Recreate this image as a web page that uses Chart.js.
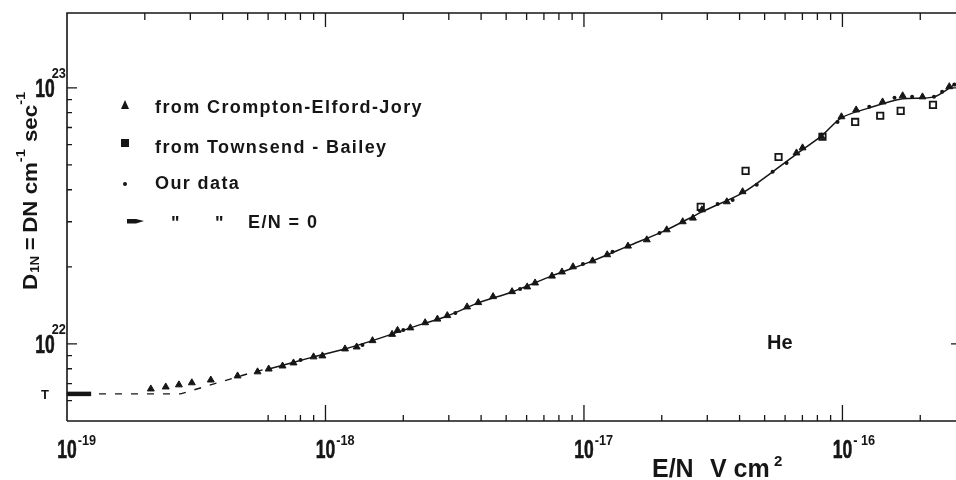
<!DOCTYPE html>
<html>
<head>
<meta charset="utf-8">
<script src="https://cdn.jsdelivr.net/npm/chart.js@4.4.0/dist/chart.umd.min.js"></script>
<style>
html, body { margin: 0; padding: 0; background: #fff; overflow: hidden; }
</style>
</head>
<body>
<canvas id="myChart" width="956" height="480"></canvas>
<script>
// E/N in V cm^2, D_1N in cm^-1 sec^-1 (He)
var xMin = 1e-19, xMax = 2.75e-16;
var yMin = 5e21, yMax = 1.96e23;

// triangles, from Crompton-Elford-Jory
var cejX = [2.11e-19, 2.41e-19, 2.71e-19, 3.04e-19, 3.60e-19, 4.57e-19, 5.46e-19, 6.03e-19, 6.82e-19, 7.52e-19,
  8.99e-19, 9.73e-19, 1.19e-18, 1.32e-18, 1.52e-18, 1.81e-18, 1.90e-18, 2.13e-18, 2.43e-18, 2.71e-18,
  2.96e-18, 3.53e-18, 3.90e-18, 4.45e-18, 5.27e-18, 6.03e-18, 6.47e-18, 7.52e-18, 8.22e-18, 9.07e-18,
  1.08e-17, 1.23e-17, 1.48e-17, 1.75e-17, 2.09e-17, 2.41e-17, 2.64e-17, 2.86e-17, 3.57e-17, 4.11e-17,
  6.64e-17, 7.01e-17, 8.30e-17, 9.91e-17, 1.13e-16, 1.43e-16, 1.71e-16, 2.04e-16, 2.59e-16];
var cejY = [6.67e21, 6.79e21, 6.92e21, 7.05e21, 7.23e21, 7.50e21, 7.78e21, 7.98e21, 8.20e21, 8.43e21,
  8.90e21, 8.98e21, 9.56e21, 9.73e21, 1.03e22, 1.09e22, 1.13e22, 1.155e22, 1.21e22, 1.25e22,
  1.29e22, 1.395e22, 1.45e22, 1.53e22, 1.60e22, 1.67e22, 1.73e22, 1.84e22, 1.91e22, 2.00e22,
  2.11e22, 2.23e22, 2.41e22, 2.55e22, 2.79e22, 3.00e22, 3.10e22, 3.34e22, 3.59e22, 3.93e22,
  5.57e22, 5.83e22, 6.44e22, 7.71e22, 8.20e22, 8.81e22, 9.31e22, 9.22e22, 1.01e23];

// open squares, from Townsend-Bailey
var tbX = [2.83e-17, 4.22e-17, 5.66e-17, 8.37e-17, 1.12e-16, 1.40e-16, 1.68e-16, 2.24e-16];
var tbY = [3.43e22, 4.74e22, 5.37e22, 6.44e22, 7.36e22, 7.78e22, 8.13e22, 8.58e22];

// small dots, our data
var ourX = [8.01e-19, 1.39e-18, 2.00e-18, 3.18e-18, 5.66e-18, 9.91e-18, 1.29e-17, 1.96e-17, 3.29e-17, 3.76e-17,
  4.66e-17, 5.37e-17, 6.08e-17, 9.57e-17, 1.27e-16, 1.59e-16, 1.86e-16, 2.26e-16, 2.43e-16, 2.71e-16];
var ourY = [8.66e21, 9.91e21, 1.134e22, 1.32e22, 1.64e22, 2.05e22, 2.29e22, 2.71e22, 3.52e22, 3.65e22,
  4.18e22, 4.70e22, 5.09e22, 7.36e22, 8.43e22, 9.14e22, 9.22e22, 9.22e22, 9.65e22, 1.03e23];

// E/N = 0 value
var zeroX = [1e-19, 1.24e-19];
var zeroY = [6.38e21, 6.38e21];

// drawn curve, dashed at low E/N
var dashX = [1e-19, 1.77e-19, 2.75e-19, 5.13e-19, 6.13e-19];
var dashY = [6.38e21, 6.38e21, 6.38e21, 7.70e21, 8.06e21];
var fitX = [6.03e-19, 8.99e-19, 1.19e-18, 1.52e-18, 2.13e-18, 2.96e-18, 3.90e-18, 5.27e-18, 7.52e-18, 1.08e-17,
  1.48e-17, 2.09e-17, 2.86e-17, 4.11e-17, 5.37e-17, 6.82e-17, 8.30e-17, 9.91e-17, 1.27e-16, 1.71e-16,
  2.26e-16, 2.71e-16];
var fitY = [7.98e21, 8.90e21, 9.56e21, 1.03e22, 1.155e22, 1.286e22, 1.446e22, 1.596e22, 1.844e22, 2.11e22,
  2.41e22, 2.79e22, 3.28e22, 3.89e22, 4.70e22, 5.62e22, 6.49e22, 7.64e22, 8.35e22, 9.06e22,
  9.22e22, 1.03e23];

// axis ticks
var xMajor = [1e-19, 1e-18, 1e-17, 1e-16];
var xLabels = ['-19', '-18', '-17', '- 16'];
var yMajor = [1e22, 1e23];
var yLabels = ['22', '23'];
var mant = [2, 3, 4, 5, 6, 7, 8, 9];

var ink = '#161616';
var SANS = '"Liberation Sans", Arial, sans-serif';

function pts(xs, ys) {
  var out = [];
  for (var i = 0; i < xs.length; i++) out.push({x: xs[i], y: ys[i]});
  return out;
}

// condensed text: drawn squeezed horizontally, optionally stroked to keep it heavy
function narrowText(ctx, t, x, y, font, sx, align, lw) {
  ctx.save();
  ctx.font = font;
  var w = ctx.measureText(t).width * sx;
  var left = align === 'center' ? x - w / 2 : x;
  ctx.translate(left, y);
  ctx.scale(sx, 1);
  ctx.textAlign = 'left';
  ctx.fillText(t, 0, 0);
  if (lw) {
    ctx.lineWidth = lw;
    ctx.strokeText(t, 0, 0);
  }
  ctx.restore();
  return w;
}

function pow10(ctx, x, y, exp, supDx, supDy) {
  ctx.textBaseline = 'alphabetic';
  var w = narrowText(ctx, '10', x, y + 9, 'bold 25px ' + SANS, 0.7, 'center', 0.6);
  narrowText(ctx, exp, x + w / 2 + supDx, y + supDy, 'bold 15px ' + SANS, 0.85, 'left', 0);
}

var axesPlugin = {
  id: 'axesPlugin',
  afterDraw: function(chart) {
    var ctx = chart.ctx, a = chart.chartArea;
    var xs = chart.scales.x, ys = chart.scales.y;
    ctx.save();
    ctx.strokeStyle = ink;
    ctx.fillStyle = ink;
    ctx.lineWidth = 1.6;
    ctx.beginPath();
    ctx.moveTo(a.left, a.bottom); ctx.lineTo(a.left, a.top); ctx.lineTo(a.right, a.top);
    ctx.moveTo(a.left, a.bottom); ctx.lineTo(a.right, a.bottom);
    ctx.stroke();

    ctx.lineWidth = 1.3;
    ctx.beginPath();
    // x ticks, top and bottom
    for (var d = 1e-19; d < xMax; d *= 10) {
      for (var m = 0; m < mant.length; m++) {
        var v = d * mant[m];
        if (v > xMax) break;
        var px = xs.getPixelForValue(v);
        ctx.moveTo(px, a.top); ctx.lineTo(px, a.top + 7);
        if (v > 5.5e-19) { ctx.moveTo(px, a.bottom); ctx.lineTo(px, a.bottom - 6); }
      }
    }
    xMajor.forEach(function(v) {
      var px = xs.getPixelForValue(v);
      if (v > xMin) {
        ctx.moveTo(px, a.top); ctx.lineTo(px, a.top + 14);
        ctx.moveTo(px, a.bottom); ctx.lineTo(px, a.bottom - 16);
      }
    });
    // y ticks, left
    var yMinor = [6e21, 7e21, 8e21, 9e21, 2e22, 3e22, 4e22, 5e22, 6e22, 7e22, 8e22, 9e22];
    yMinor.forEach(function(v) {
      var py = ys.getPixelForValue(v);
      ctx.moveTo(a.left, py); ctx.lineTo(a.left + 5, py);
    });
    yMajor.forEach(function(v) {
      var py = ys.getPixelForValue(v);
      ctx.moveTo(a.left, py); ctx.lineTo(a.left + 10, py);
      ctx.moveTo(a.right, py); ctx.lineTo(a.right - 5, py);
    });
    ctx.stroke();

    // tick labels
    xMajor.forEach(function(v, i) {
      pow10(ctx, xs.getPixelForValue(v), 449, xLabels[i], 1, -4);
    });
    yMajor.forEach(function(v, i) {
      pow10(ctx, 45, ys.getPixelForValue(v), yLabels[i], -3, -10);
    });
    ctx.font = 'bold 13px ' + SANS;
    ctx.textAlign = 'center';
    ctx.textBaseline = 'middle';
    ctx.fillText('T', 45, ys.getPixelForValue(zeroY[0]) + 2);

    // x title
    ctx.textAlign = 'left';
    ctx.textBaseline = 'alphabetic';
    ctx.font = 'bold 25px ' + SANS;
    ctx.fillText('E/N', 652, 477);
    ctx.fillText('V cm', 710, 477);
    ctx.font = 'bold 15px ' + SANS;
    ctx.fillText('2', 774, 466);

    // y title, rotated and fitted between y=290 and y=92
    ctx.save();
    ctx.translate(37, 290);
    ctx.rotate(-Math.PI / 2);
    var parts = [['D', 20, 0, 0], ['1N', 12, 2, 1], ['=', 20, 0, 5], ['DN cm', 20, 0, 4], ['-1', 13, -12, 0], [' sec', 20, 0, 1], ['-1', 13, -12, 0]];
    var total = 0;
    parts.forEach(function(p) { ctx.font = 'bold ' + p[1] + 'px ' + SANS; total += p[3] + ctx.measureText(p[0]).width; });
    ctx.scale(198 / total, 1);
    var cx = 0;
    parts.forEach(function(p) {
      ctx.font = 'bold ' + p[1] + 'px ' + SANS;
      cx += p[3];
      ctx.fillText(p[0], cx, p[2]);
      cx += ctx.measureText(p[0]).width;
    });
    ctx.restore();

    // He
    ctx.font = 'bold 20px ' + SANS;
    ctx.fillText('He', 767, 349);

    // legend
    ctx.font = 'bold 18px ' + SANS;
    ctx.letterSpacing = '1.4px';
    ctx.fillText('from Crompton-Elford-Jory', 155, 113);
    ctx.fillText('from Townsend - Bailey', 155, 153);
    ctx.fillText('Our data', 155, 189);
    ctx.fillText('"', 171, 229);
    ctx.fillText('"', 215, 229);
    ctx.fillText('E/N = 0', 248, 228);
    ctx.letterSpacing = '0px';
    ctx.beginPath();
    ctx.moveTo(125, 100); ctx.lineTo(129, 109); ctx.lineTo(121, 109); ctx.closePath();
    ctx.fill();
    ctx.fillRect(121, 139, 8, 8);
    ctx.beginPath();
    ctx.arc(125, 184, 2, 0, Math.PI * 2);
    ctx.fill();
    ctx.beginPath();
    ctx.moveTo(127, 219); ctx.lineTo(136, 219); ctx.lineTo(144, 221); ctx.lineTo(136, 223.5); ctx.lineTo(127, 223.5);
    ctx.closePath();
    ctx.fill();
    ctx.restore();
  }
};

new Chart(document.getElementById('myChart'), {
  type: 'scatter',
  data: {
    datasets: [
      { data: pts(fitX, fitY), showLine: true, borderColor: ink, borderWidth: 1.5, pointRadius: 0, tension: 0.3 },
      { data: pts(dashX, dashY), showLine: true, borderColor: ink, borderWidth: 1.4, borderDash: [7, 9], pointRadius: 0, tension: 0 },
      { data: pts(zeroX, zeroY), showLine: true, borderColor: ink, borderWidth: 4.5, pointRadius: 0, clip: false },
      { data: pts(cejX, cejY), pointStyle: 'triangle', pointRadius: 4, backgroundColor: ink, borderColor: ink, borderWidth: 1 },
      { data: pts(ourX, ourY), pointStyle: 'circle', pointRadius: 2, backgroundColor: ink, borderColor: ink, borderWidth: 0 },
      { data: pts(tbX, tbY), pointStyle: 'rect', pointRadius: 4.5, backgroundColor: '#fff', borderColor: ink, borderWidth: 1.8 }
    ]
  },
  options: {
    responsive: false,
    animation: false,
    devicePixelRatio: 1,
    layout: { autoPadding: false, padding: { left: 67, top: 13, right: 0, bottom: 59 } },
    plugins: { legend: { display: false }, tooltip: { enabled: false } },
    scales: {
      x: { type: 'logarithmic', min: xMin, max: xMax, display: false },
      y: { type: 'logarithmic', min: yMin, max: yMax, display: false }
    }
  },
  plugins: [axesPlugin]
});
</script>
</body>
</html>
